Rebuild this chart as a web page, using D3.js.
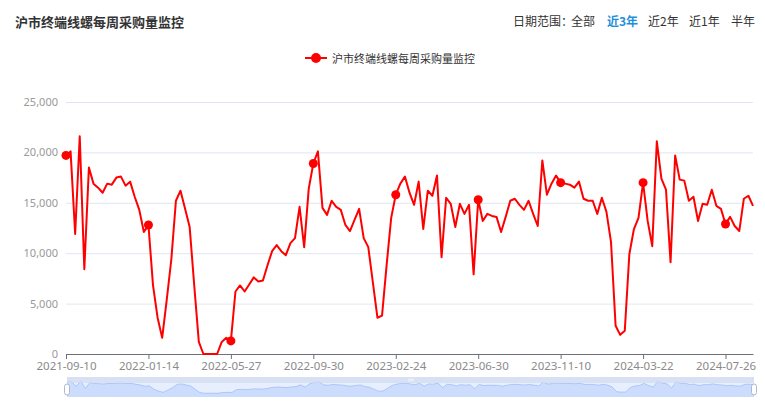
<!DOCTYPE html>
<html><head><meta charset="utf-8">
<script src="https://cdn.jsdelivr.net/npm/d3@7"></script>
<style>body{margin:0;background:#fff;} svg{display:block;font-family:"Noto Sans CJK SC","Noto Sans",sans-serif;}</style>
</head><body><svg id="c" width="765" height="410"></svg>
<script>
const dates = [
"2021-09-10","2021-09-17","2021-09-24","2021-10-01","2021-10-08","2021-10-15","2021-10-22","2021-10-29","2021-11-05","2021-11-12",
"2021-11-19","2021-11-26","2021-12-03","2021-12-10","2021-12-17","2021-12-24","2021-12-31","2022-01-07","2022-01-14","2022-01-21",
"2022-01-28","2022-02-11","2022-02-18","2022-02-25","2022-03-04","2022-03-11","2022-03-18","2022-03-25","2022-04-01","2022-04-08",
"2022-04-15","2022-04-22","2022-04-29","2022-05-06","2022-05-13","2022-05-20","2022-05-27","2022-06-03","2022-06-10","2022-06-17",
"2022-06-24","2022-07-01","2022-07-08","2022-07-15","2022-07-22","2022-07-29","2022-08-05","2022-08-12","2022-08-19","2022-08-26",
"2022-09-02","2022-09-09","2022-09-16","2022-09-23","2022-09-30","2022-10-14","2022-10-21","2022-10-28","2022-11-04","2022-11-11",
"2022-11-18","2022-11-25","2022-12-02","2022-12-09","2022-12-16","2022-12-23","2022-12-30","2023-01-06","2023-01-13","2023-02-03",
"2023-02-10","2023-02-17","2023-02-24","2023-03-03","2023-03-10","2023-03-17","2023-03-24","2023-03-31","2023-04-07","2023-04-14",
"2023-04-21","2023-04-28","2023-05-05","2023-05-12","2023-05-19","2023-05-26","2023-06-02","2023-06-09","2023-06-16","2023-06-23",
"2023-06-30","2023-07-07","2023-07-14","2023-07-21","2023-07-28","2023-08-04","2023-08-11","2023-08-18","2023-08-25","2023-09-01",
"2023-09-08","2023-09-15","2023-09-22","2023-09-29","2023-10-13","2023-10-20","2023-10-27","2023-11-03","2023-11-10","2023-11-17",
"2023-11-24","2023-12-01","2023-12-08","2023-12-15","2023-12-22","2023-12-29","2024-01-05","2024-01-12","2024-01-19","2024-01-26",
"2024-02-02","2024-02-09","2024-02-23","2024-03-01","2024-03-08","2024-03-15","2024-03-22","2024-03-29","2024-04-05","2024-04-12",
"2024-04-19","2024-04-26","2024-05-03","2024-05-10","2024-05-17","2024-05-24","2024-05-31","2024-06-07","2024-06-14","2024-06-21",
"2024-06-28","2024-07-05","2024-07-12","2024-07-19","2024-07-26","2024-08-02","2024-08-09","2024-08-16","2024-08-23","2024-08-30",
"2024-09-06"];
const values = [
19700,20100,11900,21600,8400,18500,16900,16500,16000,16900,
16800,17500,17600,16700,17100,15600,14300,12100,12800,6800,
3600,1600,5400,9400,15200,16200,14400,12600,6800,1200,
0,0,0,0,1200,1600,1300,6200,6800,6200,
6900,7600,7200,7300,8800,10200,10800,10200,9800,11000,
11500,14600,10600,16400,18900,20100,14500,13800,15200,14600,
14300,12800,12200,13300,14400,11500,10600,7100,3600,3800,
8800,13500,15800,16900,17600,16000,14800,17100,12400,16200,
15700,17700,9600,15500,14900,12600,14900,13900,14800,7900,
15300,13200,13900,13700,13600,12100,13600,15200,15400,14800,
14300,15200,13900,12700,19200,15800,16900,17700,17000,16900,
16800,16500,17100,15400,15200,15200,13900,15500,14100,11100,
2800,1900,2300,9900,12400,13500,17000,13200,10700,21100,
17400,16300,9100,19700,17300,17200,15200,15600,13200,14900,
14800,16300,14700,14400,12900,13600,12700,12200,15400,15700,
14700];
const yTicks = [0,5000,10000,15000,20000,25000];
const rangeOptions = ["全部","近3年","近2年","近1年","半年"];
const title = "沪市终端线螺每周采购量监控";
const seriesName = "沪市终端线螺每周采购量监控";
const labelInterval = 18;

const svg = d3.select("#c");
const x = d3.scalePoint().domain(dates).range([66, 753]);
const y = d3.scaleLinear().domain([0, 25000]).range([354, 102]);

// title
svg.append("text").attr("x", 15).attr("y", 21).attr("dominant-baseline", "central")
  .attr("font-size", 13).attr("font-weight", "bold").attr("fill", "#333").text(title);

// range selector
svg.append("text").attr("x", 513).attr("y", 20).attr("dominant-baseline", "central")
  .attr("font-size", 12).attr("fill", "#333").text("日期范围：");
const optX = [571, 607, 648, 689, 731];
svg.selectAll("text.opt").data(rangeOptions).enter().append("text").attr("class", "opt")
  .attr("x", (d, i) => optX[i]).attr("y", 20).attr("dominant-baseline", "central")
  .attr("font-size", 12)
  .attr("font-weight", d => d === "近3年" ? "bold" : "normal")
  .attr("fill", d => d === "近3年" ? "#1e8fdc" : "#333").text(d => d);

// legend
const lg = svg.append("g");
lg.append("line").attr("x1", 305).attr("x2", 327).attr("y1", 58).attr("y2", 58)
  .attr("stroke", "#ff0000").attr("stroke-width", 2);
lg.append("circle").attr("cx", 316).attr("cy", 58).attr("r", 5).attr("fill", "#ff0000");
lg.append("text").attr("x", 332).attr("y", 58).attr("dominant-baseline", "central")
  .attr("font-size", 11).attr("fill", "#333").text(seriesName);

// grid + y axis
const yAxis = d3.axisLeft(y).tickValues(yTicks).tickSize(-(753 - 66)).tickPadding(8)
  .tickFormat(d3.format(","));
const gy = svg.append("g").attr("transform", "translate(66,0)").call(yAxis);
gy.select(".domain").remove();
gy.selectAll(".tick line").attr("stroke", "#e0e6f1").attr("stroke-width", 1);
gy.selectAll(".tick text").attr("font-size", 11).attr("fill", "#999")
  .attr("font-family", "'Noto Sans',sans-serif");

// x axis
const tickDates = dates.filter((d, i) => i % labelInterval === 0);
const xAxis = d3.axisBottom(x).tickValues(tickDates).tickSize(5).tickPadding(3).tickSizeOuter(0);
const gx = svg.append("g").attr("transform", "translate(0,354)").call(xAxis);
gx.select(".domain").attr("stroke", "#6e7079");
gx.selectAll(".tick line").attr("stroke", "#6e7079");
gx.selectAll(".tick text").attr("font-size", 11.5).attr("fill", "#8a8a8a")
  .attr("font-family", "'Noto Sans',sans-serif");

// line
const line = d3.line().x((d, i) => x(dates[i])).y(d => y(d)).curve(d3.curveLinear);
svg.append("path").datum(values).attr("d", line).attr("fill", "none")
  .attr("stroke", "#ff0000").attr("stroke-width", 2).attr("stroke-linejoin", "round");
svg.selectAll("circle.pt").data(values.map((v, i) => [i, v]).filter(d => d[0] % labelInterval === 0))
  .enter().append("circle").attr("class", "pt")
  .attr("cx", d => x(dates[d[0]])).attr("cy", d => y(d[1])).attr("r", 4.5).attr("fill", "#ff0000");

// data zoom slider
const sx = d3.scalePoint().domain(dates).range([67, 754]);
const ext = d3.extent(values);
const off = (ext[1] - ext[0]) * 0.3;
const sy = d3.scaleLinear().domain([ext[0] - off, ext[1] + off]).range([397, 377]);
const sl = svg.append("g");
sl.append("rect").attr("x", 67).attr("y", 377).attr("width", 687).attr("height", 20)
  .attr("fill", "rgba(135,175,255,0.2)");
const area = d3.area().x((d, i) => sx(dates[i])).y0(397).y1(d => sy(d));
sl.append("path").datum(values).attr("d", area).attr("fill", "#8fb0f7").attr("fill-opacity", 0.3);
const sline = d3.line().x((d, i) => sx(dates[i])).y(d => sy(d));
sl.append("path").datum(values).attr("d", sline).attr("fill", "none")
  .attr("stroke", "#8fb0f7").attr("stroke-width", 0.6);
sl.append("rect").attr("x", 67).attr("y", 377).attr("width", 687).attr("height", 6)
  .attr("fill", "#d2dbee").attr("fill-opacity", 0.7);
[409, 411, 413].forEach(px => sl.append("line").attr("x1", px).attr("x2", px).attr("y1", 378.5).attr("y2", 381.5)
  .attr("stroke", "#fff").attr("stroke-width", 0.8));
[67, 754].forEach(px => sl.append("rect").attr("x", px - 2.5).attr("y", 384).attr("width", 5).attr("height", 11)
  .attr("rx", 2.5).attr("fill", "#fff").attr("stroke", "#acb8d1").attr("stroke-width", 1));
</script></body></html>
